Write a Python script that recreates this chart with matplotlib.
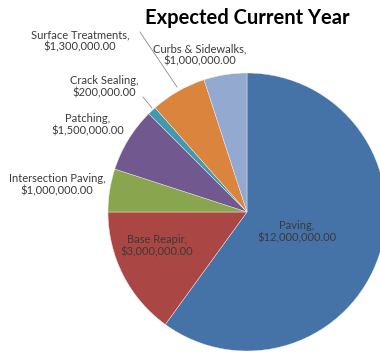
import matplotlib

matplotlib.use('Agg')
import matplotlib.pyplot as plt

categories = ['Paving', 'Base Reapir', 'Intersection Paving', 'Patching',
              'Crack Sealing', 'Surface Treatments', 'Curbs & Sidewalks']
amounts = [12000000, 3000000, 1000000, 1500000, 200000, 1300000, 1000000]
slice_colors = ['#4572A7', '#AA4643', '#89A54E', '#71588F', '#4198AF', '#DB843D', '#93A9CF']

# label anchor positions in pixel space (x, y from top)
label_spots = {
    'Paving': (297, 232),
    'Base Reapir': (157, 246),
    'Intersection Paving': (57, 185),
    'Patching': (88, 125),
    'Crack Sealing': (104, 87),
    'Surface Treatments': (80, 41),
    'Curbs & Sidewalks': (200, 55),
}
# leader lines: (label end, slice end)
leaders = {
    'Surface Treatments': ((140, 32), (177, 87)),
    'Crack Sealing': ((143, 97), (152, 108)),
}

W, H = 380, 358
center = (247, H - 212)
radius = 139

plt.rcParams['font.family'] = ['Lato', 'DejaVu Sans']
fig = plt.figure(figsize=(W / 100, H / 100), dpi=100)
ax = fig.add_axes([0, 0, 1, 1])

ax.pie(amounts, colors=slice_colors, startangle=90, counterclock=False,
       center=center, radius=radius, frame=True,
       wedgeprops=dict(edgecolor='#f0f0f0', linewidth=0.3))
ax.set_xlim(0, W)
ax.set_ylim(0, H)
ax.set_aspect('equal')
ax.axis('off')

for name, value in zip(categories, amounts):
    x, y = label_spots[name]
    ax.text(x, H - y, f'{name},\n${value:,.2f}', ha='center', va='center',
            fontsize=8, color='#3a3a3a', linespacing=1.15)

for name, (start, end) in leaders.items():
    ax.plot([start[0], end[0]], [H - start[1], H - end[1]], color='#8c8c8c', linewidth=0.6)

ax.text(247, H - 18, 'Expected Current Year', ha='center', va='center',
        fontsize=14.5, fontweight='bold', color='black')

fig.savefig('out.png', dpi=100)
plt.close(fig)
